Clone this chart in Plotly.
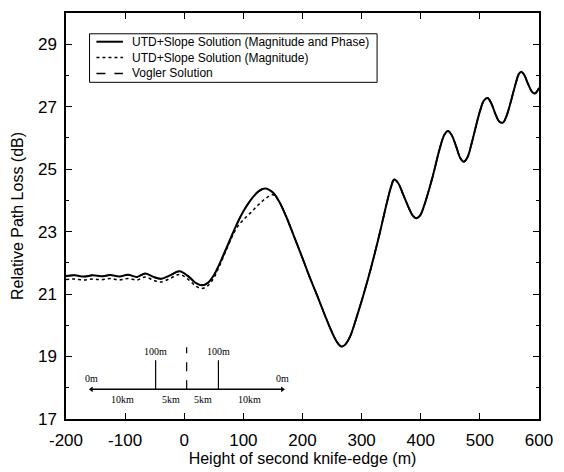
import plotly.graph_objects as go

# ---- data ----
height_m = [-200, -185, -170, -155, -140, -125, -110, -95, -80, -66, -52, -39, -24, -8,
            8, 20, 30, 40, 50, 60, 72, 88, 100, 112, 125, 137, 150, 160,
            172, 185, 200, 213, 227, 240, 253, 260, 266, 272, 280, 293, 305, 316, 330,
            343, 350, 355, 362, 370, 380, 387, 393, 399, 406,
            420, 432, 440, 446, 452, 460, 467, 473, 479, 486, 500, 507, 513, 519, 526,
            533, 539, 545, 550, 560, 566, 570, 575, 581, 588, 593, 597, 600]

utd_mag_phase = [21.58, 21.60, 21.56, 21.60, 21.57, 21.61, 21.56, 21.62, 21.55, 21.66,
                 21.55, 21.49, 21.60, 21.73,
                 21.55, 21.35, 21.28, 21.36, 21.60, 21.98, 22.50, 23.20, 23.65, 24.00,
                 24.28, 24.38, 24.25, 23.98,
                 23.50, 22.88, 22.15, 21.50, 20.85, 20.22, 19.65, 19.42, 19.32, 19.38,
                 19.62, 20.35, 21.10, 21.85, 22.90,
                 23.95, 24.45, 24.67, 24.55, 24.20, 23.75, 23.50, 23.43, 23.52, 23.85,
                 24.75, 25.65, 26.10, 26.22, 26.10, 25.72, 25.35, 25.24, 25.38, 25.82,
                 26.85, 27.20, 27.28, 27.12, 26.78,
                 26.52, 26.49, 26.70, 27.00, 27.70, 28.05, 28.12, 28.02, 27.75, 27.48,
                 27.42, 27.50, 27.60]

# magnitude-only solution differs up to ~160 m, then coincides with the full solution
utd_mag_head = [21.47, 21.48, 21.45, 21.48, 21.46, 21.50, 21.45, 21.50, 21.45, 21.55,
                21.44, 21.39, 21.50, 21.63,
                21.45, 21.25, 21.18, 21.27, 21.52, 21.92, 22.45, 23.10, 23.38, 23.60,
                23.85, 24.05, 24.18, 23.98]
utd_mag = utd_mag_head + utd_mag_phase[len(utd_mag_head):]

vogler = list(utd_mag_phase)

assert len(height_m) == len(utd_mag_phase) == len(utd_mag)

y_ticks = [17, 19, 21, 23, 25, 27, 29]
x_ticks = [-200, -100, 0, 100, 200, 300, 400, 500, 600]

legend_names = ["UTD+Slope Solution (Magnitude and Phase)",
                "UTD+Slope Solution (Magnitude)",
                "Vogler Solution"]
legend_dash = ["solid", "dot", "dash"]

# inset terrain sketch (data units)
ground_x = [-157, 166]
ground_y = 17.95
edge1_x, edge2_x, vogler_edge_x = -48.4, 57.8, 4.1
edge_top = 18.88
dashed_top = 19.3
dist_labels = ["10km", "5km", "5km", "10km"]
dist_label_x = [-105, -22, 31, 111]
dist_label_y = 17.64

serif = "Liberation Serif"
sans = "Liberation Sans"

fig = go.Figure()

fig.add_trace(go.Scatter(x=height_m, y=vogler, mode="lines", name=legend_names[2],
                         line=dict(color="black", width=1.5, dash="dash", shape="spline"),
                         showlegend=False))
fig.add_trace(go.Scatter(x=height_m, y=utd_mag, mode="lines", name=legend_names[1],
                         line=dict(color="black", width=1.5, dash="dot", shape="spline"),
                         showlegend=False))
fig.add_trace(go.Scatter(x=height_m, y=utd_mag_phase, mode="lines", name=legend_names[0],
                         line=dict(color="black", width=2, shape="spline"),
                         showlegend=False))

# inset sketch
fig.add_trace(go.Scatter(x=ground_x, y=[ground_y, ground_y], mode="lines+markers",
                         line=dict(color="black", width=1.5),
                         marker=dict(symbol=["triangle-left", "triangle-right"], size=5, color="black"),
                         showlegend=False, hoverinfo="skip"))
for ex in (edge1_x, edge2_x):
    fig.add_trace(go.Scatter(x=[ex, ex], y=[ground_y, edge_top], mode="lines",
                             line=dict(color="black", width=1.2),
                             showlegend=False, hoverinfo="skip"))
fig.add_trace(go.Scatter(x=[vogler_edge_x, vogler_edge_x], y=[ground_y, dashed_top], mode="lines",
                         line=dict(color="black", width=1.2, dash="dash"),
                         showlegend=False, hoverinfo="skip"))

ann = []
for ex in (edge1_x, edge2_x):
    ann.append(dict(x=ex, y=edge_top, text="100m", showarrow=False, yanchor="bottom",
                    yshift=1, font=dict(family=serif, size=10, color="black")))
for gx in ground_x:
    ann.append(dict(x=gx, y=ground_y, text="0m", showarrow=False, yanchor="bottom",
                    yshift=3, font=dict(family=serif, size=10, color="black")))
for lx, lt in zip(dist_label_x, dist_labels):
    ann.append(dict(x=lx, y=dist_label_y, text=lt, showarrow=False,
                    font=dict(family=serif, size=10, color="black")))

# legend box (drawn in paper coordinates)
L, R, T, B = 66, 548, 11, 421
def px(v):
    return (v - L) / (R - L)
def py(v):
    return (B - v) / (B - T)

shapes = [dict(type="rect", xref="paper", yref="paper",
               x0=px(90), x1=px(383), y0=py(81), y1=py(32),
               line=dict(color="black", width=1), fillcolor="white", layer="above")]
rows = [40, 56, 72]
for name, dash, r in zip(legend_names, legend_dash, rows):
    shapes.append(dict(type="line", xref="paper", yref="paper",
                       x0=px(97), x1=px(124), y0=py(r), y1=py(r),
                       line=dict(color="black", width=2 if dash == "solid" else 1.5, dash=dash),
                       layer="above"))
    ann.append(dict(xref="paper", yref="paper", x=px(131), y=py(r), text=name,
                    showarrow=False, xanchor="left", yanchor="middle",
                    font=dict(family=sans, size=12, color="black")))

fig.update_layout(
    width=564, height=472,
    margin=dict(l=66, r=16, t=11, b=51),
    paper_bgcolor="white", plot_bgcolor="white",
    font=dict(family=sans, color="black", size=17),
    annotations=ann,
    shapes=shapes,
    showlegend=False,
)
fig.update_xaxes(range=[-200, 600], tickvals=x_ticks, ticktext=[str(v) for v in x_ticks],
                 ticks="inside", ticklen=6, tickwidth=1.2, tickcolor="black",
                 showline=True, linecolor="black", linewidth=1.5, mirror="allticks",
                 showgrid=False, zeroline=False, ticklabelstandoff=5,
                 title=dict(text="Height of second knife-edge (m)", standoff=0,
                            font=dict(size=16)),
                 tickfont=dict(size=17))
fig.update_yaxes(range=[17, 30], tickvals=y_ticks, ticktext=[str(v) for v in y_ticks],
                 ticks="inside", ticklen=6, tickwidth=1.2, tickcolor="black",
                 minor=dict(dtick=1, tick0=17, ticks="inside", ticklen=3, tickcolor="black"),
                 showline=True, linecolor="black", linewidth=1.5, mirror="allticks",
                 showgrid=False, zeroline=False, ticklabelstandoff=4,
                 title=dict(text="Relative Path Loss (dB)", standoff=10,
                            font=dict(size=16)),
                 tickfont=dict(size=17))

fig.write_html("out.html")
